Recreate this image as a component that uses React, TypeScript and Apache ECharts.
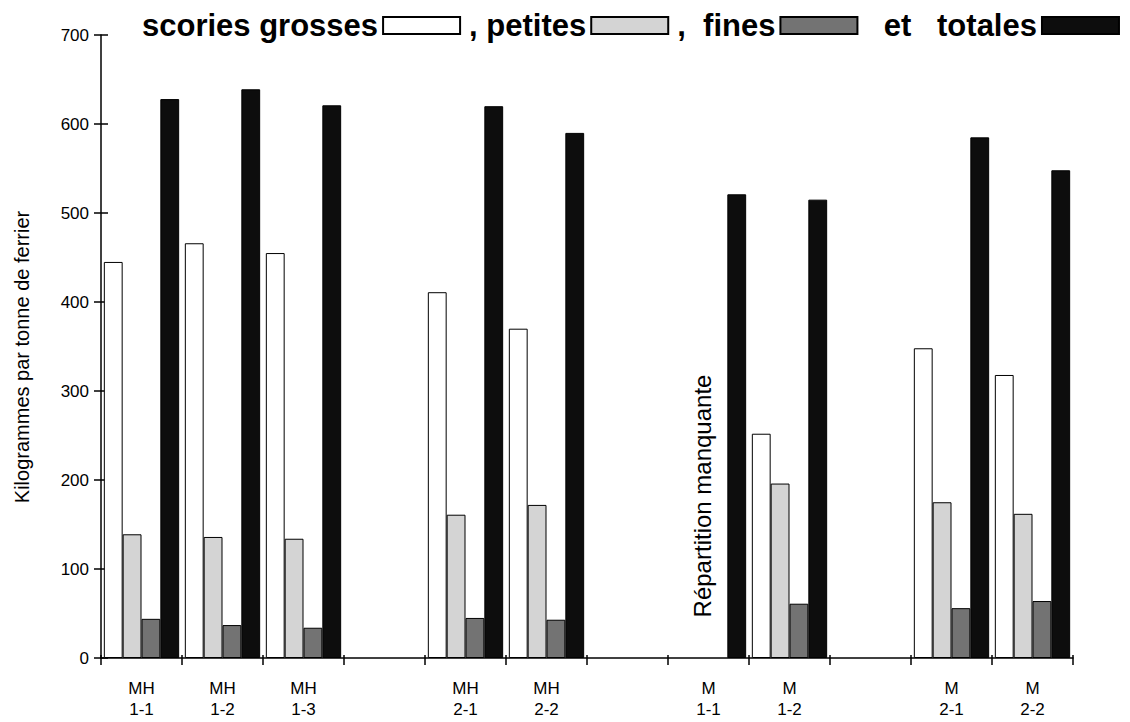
import React, { useEffect, useRef } from "react";
import * as echarts from "echarts";

const categories = [
  "MH\n1-1", "MH\n1-2", "MH\n1-3", "", "MH\n2-1", "MH\n2-2", "",
  "M\n1-1", "M\n1-2", "", "M\n2-1", "M\n2-2",
];
const seriesNames = ["scories grosses", "petites", "fines", "totales"];
const legendPrefixes = ["", ", ", ",  ", "  et   "];
const grosses = [445, 466, 455, null, 411, 370, null, null, 252, null, 348, 318];
const petites = [139, 136, 134, null, 161, 172, null, null, 196, null, 175, 162];
const fines = [44, 37, 34, null, 45, 43, null, null, 61, null, 56, 64];
const totales = [628, 639, 621, null, 620, 590, null, 521, 515, null, 585, 548];
const yTitle = "Kilogrammes par tonne de ferrier";
const missingNote = "Répartition manquante";

const FONT = "'Liberation Sans', Arial, sans-serif";

export default function App() {
  const ref = useRef<HTMLDivElement>(null);
  useEffect(() => {
    if (!ref.current) return;
    const chart = echarts.init(ref.current, null, { renderer: "svg" });
    const colors = ["#ffffff", "#d4d4d4", "#737373", "#0d0d0d"];
    const values = [grosses, petites, fines, totales];
    chart.setOption({
      animation: false,
      backgroundColor: "#ffffff",
      textStyle: { fontFamily: FONT, color: "#000" },
      legend: {
        left: 142,
        top: 10,
        align: "right",
        icon: "rect",
        itemWidth: 77,
        itemHeight: 17,
        itemGap: 8,
        padding: 0,
        data: seriesNames,
        formatter: (name: string) => legendPrefixes[seriesNames.indexOf(name)] + name,
        textStyle: { fontSize: 31, fontWeight: "bold", color: "#000", fontFamily: FONT },
        selectedMode: false,
      },
      grid: { left: 101, right: 57, top: 35, bottom: 64, containLabel: false, outerBoundsMode: "none" },
      xAxis: [
        {
          type: "category",
          data: categories,
          axisLine: { show: true, lineStyle: { color: "#000", width: 1.5 } },
          axisTick: { show: true, interval: 0, length: 7, lineStyle: { color: "#000", width: 1.5 } },
          axisLabel: { interval: 0, margin: 20, fontSize: 17, lineHeight: 21, color: "#000", fontFamily: FONT },
        },
        {
          type: "category",
          data: categories,
          position: "bottom",
          axisLine: { show: false },
          axisTick: { show: true, inside: true, interval: 0, length: 3, lineStyle: { color: "#000", width: 1.5 } },
          axisLabel: { show: false },
        },
      ],
      yAxis: [
        {
          type: "value",
          min: 0,
          max: 700,
          interval: 100,
          position: "left",
          axisLine: { show: true, lineStyle: { color: "#000", width: 1.5 } },
          axisTick: { show: true, length: 7, lineStyle: { color: "#000", width: 1.5 } },
          axisLabel: { fontSize: 17, margin: 12, color: "#000", fontFamily: FONT },
          splitLine: { show: false },
        },
        {
          type: "value",
          min: 0,
          max: 700,
          interval: 100,
          position: "left",
          axisLine: { show: false },
          axisTick: { show: true, inside: true, length: 7, lineStyle: { color: "#000", width: 1.5 } },
          axisLabel: { show: false },
          splitLine: { show: false },
        },
      ],
      series: seriesNames.map((name, i) => ({
        name,
        type: "bar",
        xAxisIndex: 0,
        yAxisIndex: 0,
        data: values[i],
        barGap: "0%",
        barCategoryGap: "7%",
        itemStyle: { color: colors[i], borderColor: "#000", borderWidth: 1 },
      })),
      graphic: [
        {
          type: "text",
          x: 22,
          y: 357,
          rotation: Math.PI / 2,
          style: {
            text: yTitle,
            fontSize: 20,
            fontFamily: FONT,
            fill: "#000",
            align: "center",
            verticalAlign: "middle",
          },
        },
        {
          type: "text",
          x: 702,
          y: 496,
          rotation: Math.PI / 2,
          style: {
            text: missingNote,
            fontSize: 24,
            fontFamily: FONT,
            fill: "#000",
            align: "center",
            verticalAlign: "middle",
          },
        },
      ],
    });
    return () => chart.dispose();
  }, []);
  return (
    <div
      ref={ref}
      style={{ position: "fixed", left: 0, top: 0, width: 1130, height: 722 }}
    />
  );
}
